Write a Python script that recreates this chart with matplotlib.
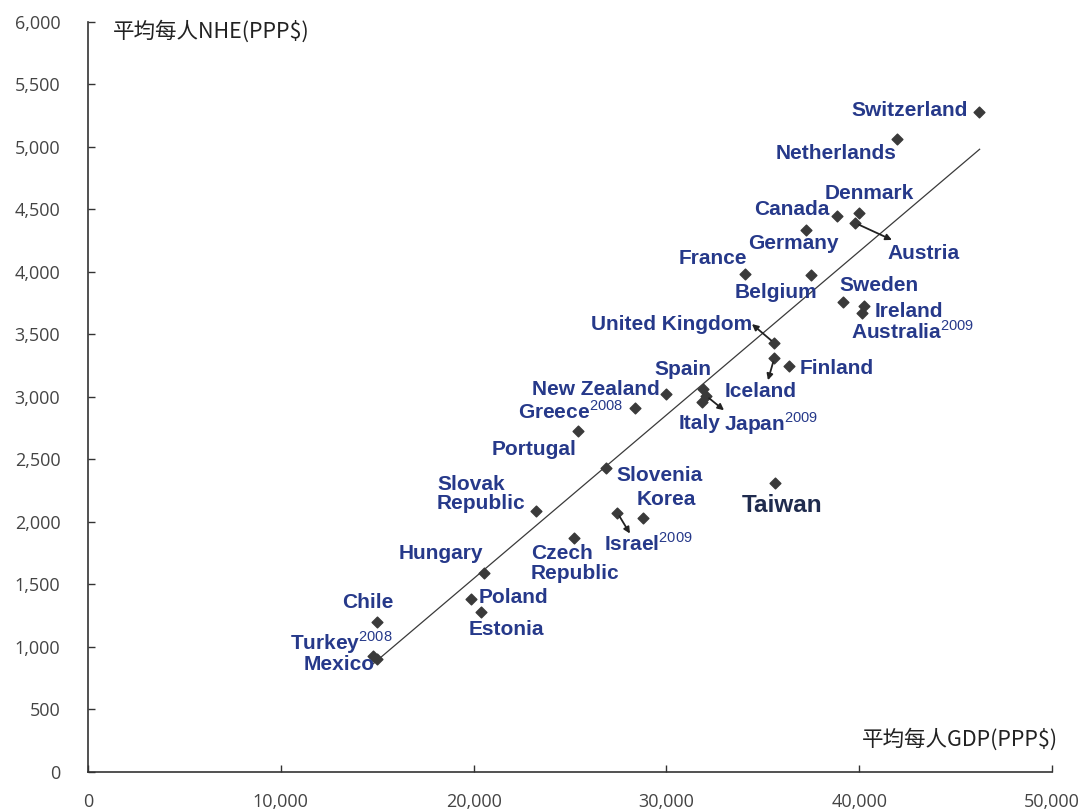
import matplotlib
matplotlib.use('Agg')
import matplotlib.pyplot as plt

plt.rcParams['font.family'] = ['Liberation Sans', 'DejaVu Sans']
plt.rcParams['mathtext.fontset'] = 'custom'
plt.rcParams['mathtext.rm'] = 'Liberation Sans'

# 國家, 平均每人GDP, 平均每人NHE (PPP$)
countries = ['Switzerland', 'Netherlands', 'Denmark', 'Austria', 'Canada', 'Germany',
             'France', 'Belgium', 'Sweden', 'Ireland', 'Australia', 'United Kingdom',
             'Iceland', 'Finland', 'Spain', 'Japan', 'Italy', 'New Zealand', 'Greece',
             'Portugal', 'Slovenia', 'Slovak Republic', 'Korea', 'Israel', 'Taiwan',
             'Czech Republic', 'Hungary', 'Poland', 'Estonia', 'Chile', 'Turkey', 'Mexico']
gdp = [46200, 41950, 40000, 39800, 38850, 37250,
       34100, 37500, 39150, 40250, 40150, 35600,
       35600, 36350, 31900, 32050, 31850, 30000, 28350,
       25400, 26850, 23250, 28800, 27450, 35650,
       25200, 20550, 19850, 20400, 15000, 14800, 15000]
nhe = [5280, 5060, 4470, 4390, 4450, 4335,
       3980, 3975, 3760, 3725, 3670, 3430,
       3310, 3245, 3060, 3010, 2960, 3020, 2910,
       2730, 2430, 2090, 2035, 2075, 2315,
       1875, 1595, 1385, 1280, 1200, 930, 905]

# 迴歸趨勢線兩端
trend_x = [14750, 46250]
trend_y = [860, 4980]

x_ticks = [0, 10000, 20000, 30000, 40000, 50000]
y_ticks = [0, 500, 1000, 1500, 2000, 2500, 3000, 3500, 4000, 4500, 5000, 5500, 6000]

# 標籤: 文字, x, y, 水平對齊
labels = [
    ('Switzerland', 45640, 5288, 'right'),
    ('Netherlands', 38800, 4944, 'center'),
    ('Denmark', 40510, 4623, 'center'),
    ('Canada', 36510, 4495, 'center'),
    ('Austria', 43360, 4143, 'center'),
    ('Germany', 36570, 4223, 'center'),
    ('France', 32420, 4103, 'center'),
    ('Belgium', 35680, 3838, 'center'),
    ('Sweden', 41030, 3894, 'center'),
    ('Ireland', 42580, 3686, 'center'),
    ('Australia$^{2009}$', 39570, 3526, 'left'),
    ('United Kingdom', 34440, 3582, 'right'),
    ('Spain', 30860, 3221, 'center'),
    ('Finland', 36930, 3229, 'left'),
    ('Iceland', 34910, 3045, 'center'),
    ('New Zealand', 26350, 3061, 'center'),
    ('Greece$^{2008}$', 22300, 2885, 'left'),
    ('Italy', 31740, 2788, 'center'),
    ('Japan$^{2009}$', 32990, 2788, 'left'),
    ('Portugal', 23130, 2580, 'center'),
    ('Slovenia', 27390, 2372, 'left'),
    ('Slovak\nRepublic', 18100, 2224, 'left'),
    ('Korea', 29980, 2179, 'center'),
    ('Israel$^{2009}$', 26760, 1827, 'left'),
    ('Czech\nRepublic', 22980, 1667, 'left'),
    ('Hungary', 18310, 1747, 'center'),
    ('Poland', 20280, 1394, 'left'),
    ('Estonia', 21680, 1138, 'center'),
    ('Chile', 14520, 1354, 'center'),
    ('Turkey$^{2008}$', 15770, 1034, 'right'),
    ('Mexico', 14890, 857, 'right'),
]

# 箭頭: 起點國家, 終點
arrows = [
    ('Austria', 41700, 4255),
    ('United Kingdom', 34440, 3582),
    ('Iceland', 35270, 3133),
    ('Japan', 32990, 2893),
    ('Israel', 28110, 1907),
]

fig = plt.figure(figsize=(10.83, 8.1), dpi=100)
ax = fig.add_axes([0.0813, 0.0469, 0.890, 0.9263])

ax.plot(trend_x, trend_y, color='#3a3a3a', lw=0.9)
ax.scatter(gdp, nhe, marker='D', s=30, color='#3a3a3a', zorder=3)

for text, x, y, ha in labels:
    ax.text(x, y, text, ha=ha, va='center', fontsize=15, fontweight='bold',
            color='#26398a', linespacing=1.05)

ax.text(36000, 2131, 'Taiwan', ha='center', va='center', fontsize=17.5,
        fontweight='bold', color='#1f2b4e')

for name, ex, ey in arrows:
    i = countries.index(name)
    ax.annotate('', xy=(ex, ey), xytext=(gdp[i], nhe[i]),
                arrowprops=dict(arrowstyle='-|>', color='#222222', lw=1.3,
                                mutation_scale=9, shrinkA=3, shrinkB=0))

ax.set_xlim(0, 50000)
ax.set_ylim(0, 6000)
ax.set_xticks(x_ticks)
ax.set_yticks(y_ticks)
ax.set_xticklabels(['{:,}'.format(v) for v in x_ticks])
ax.set_yticklabels(['{:,}'.format(v) for v in y_ticks])
ax.tick_params(direction='in', length=5, width=1, color='#333333',
               labelsize=13, labelcolor='#444444')
ax.tick_params(axis='y', pad=20)
ax.tick_params(axis='x', pad=15)
for lab in ax.get_xticklabels() + ax.get_yticklabels():
    lab.set_family('Open Sans')
for s in ['top', 'right']:
    ax.spines[s].set_visible(False)
for s in ['left', 'bottom']:
    ax.spines[s].set_color('#333333')
    ax.spines[s].set_linewidth(1.2)

cjk = ['Noto Sans CJK TC', 'DejaVu Sans']
ax.text(1300, 5925, '平均每人NHE(PPP$)', family=cjk, fontsize=15.5,
        color='#222222', ha='left', va='center')
ax.text(50300, 256, '平均每人GDP(PPP$)', family=cjk, fontsize=15.5,
        color='#222222', ha='right', va='center')

fig.savefig('out.png', dpi=100)
